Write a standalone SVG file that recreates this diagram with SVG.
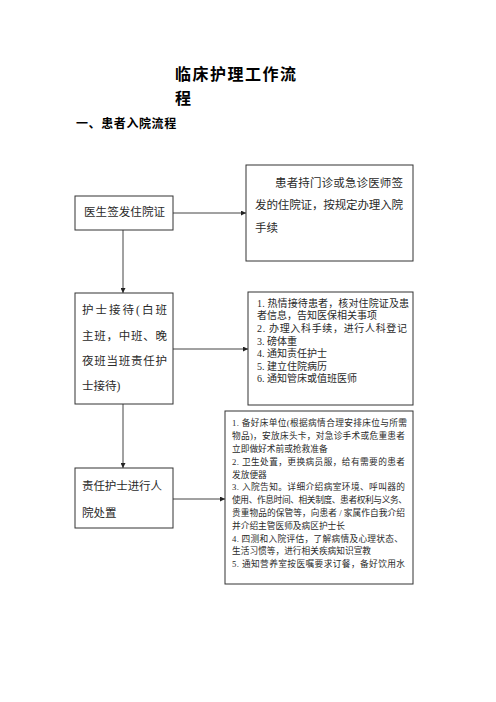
<svg xmlns="http://www.w3.org/2000/svg" width="496" height="702" viewBox="0 0 496 702">
<style>
.bg{fill:#ffffff}
.box{fill:#ffffff;stroke:#333333;stroke-width:1}
.t{font-family:"Liberation Serif","Noto Sans CJK SC",serif;fill:#2a2a2a}
.h{font-family:"Noto Sans CJK SC","Liberation Sans",sans-serif;font-weight:bold;fill:#000000}
.c{stroke:#444444;stroke-width:1;fill:none;marker-end:url(#arr)}
</style>
<defs>
<marker id="arr" viewBox="0 0 6 6" refX="6" refY="3" markerWidth="5" markerHeight="5" markerUnits="userSpaceOnUse" orient="auto">
<path d="M0,0 L6,3 L0,6 Z" fill="#222222"/>
</marker>
</defs>
<rect class="bg" x="0" y="0" width="496" height="702"/>
<g id="title">
<text class="h" x="175" y="80" font-size="16" letter-spacing="1.5">临床护理工作流</text>
<text class="h" x="175" y="104" font-size="16">程</text>
<text class="h" x="76" y="128" font-size="12" letter-spacing="0.6">一、患者入院流程</text>
</g>
<g id="connectors">
<line class="c" x1="173" y1="213" x2="246" y2="213"/>
<line class="c" x1="123" y1="230" x2="123" y2="293"/>
<line class="c" x1="173" y1="349" x2="248" y2="349"/>
<line class="c" x1="123" y1="404" x2="123" y2="468"/>
<line class="c" x1="173" y1="499" x2="225" y2="499"/>
</g>
<g id="node1">
<rect class="box" x="75" y="196" width="98" height="34"/>
<text class="t" x="84" y="216.4" font-size="11.5" textLength="81">医生签发住院证</text>
</g>
<g id="node2">
<rect class="box" x="246" y="165" width="167" height="96"/>
<text class="t" x="275" y="187.4" font-size="11.5" textLength="128">患者持门诊或急诊医师签</text>
<text class="t" x="255" y="209.4" font-size="11.5" textLength="148">发的住院证，按规定办理入院</text>
<text class="t" x="255" y="232.4" font-size="11.5">手续</text>
</g>
<g id="node3">
<rect class="box" x="75" y="293" width="98" height="111"/>
<text class="t" x="82" y="314.4" font-size="11.5" textLength="85">护士接待(白班</text>
<text class="t" x="82" y="340.4" font-size="11.5" textLength="85">主班，中班、晚</text>
<text class="t" x="82" y="365.4" font-size="11.5" textLength="85">夜班当班责任护</text>
<text class="t" x="82" y="390.4" font-size="11.5">士接待)</text>
</g>
<g id="node4">
<rect class="box" x="248" y="292" width="165" height="113"/>
<text class="t" x="257" y="306.8" font-size="10" textLength="152">1. 热情接待患者，核对住院证及患</text>
<text class="t" x="257" y="319.4" font-size="10">者信息，告知医保相关事项</text>
<text class="t" x="257" y="332" font-size="10" textLength="150">2. 办理入科手续，进行人科登记</text>
<text class="t" x="257" y="344.6" font-size="10">3. 磅体重</text>
<text class="t" x="257" y="357.2" font-size="10">4. 通知责任护士</text>
<text class="t" x="257" y="369.8" font-size="10">5. 建立住院病历</text>
<text class="t" x="257" y="382.4" font-size="10">6. 通知管床或值班医师</text>
</g>
<g id="node5">
<rect class="box" x="75" y="468" width="98" height="60"/>
<text class="t" x="82" y="490.4" font-size="11.5" textLength="80">责任护士进行人</text>
<text class="t" x="82" y="517.4" font-size="11.5">院处置</text>
</g>
<g id="node6">
<rect class="box" x="225" y="411" width="188" height="173"/>
<text class="t" x="232" y="426.3" font-size="8.7" textLength="175">1. 备好床单位(根据病情合理安排床位与所需</text>
<text class="t" x="232" y="439.1" font-size="8.7" textLength="173">物品)，安放床头卡，对急诊手术或危重患者</text>
<text class="t" x="232" y="451.9" font-size="8.7">立即做好术前或抢救准备</text>
<text class="t" x="232" y="464.7" font-size="8.7" textLength="173">2. 卫生处置，更换病员服，给有需要的患者</text>
<text class="t" x="232" y="477.5" font-size="8.7">发放便器</text>
<text class="t" x="232" y="490.3" font-size="8.7" textLength="173">3. 入院告知。详细介绍病室环境、呼叫器的</text>
<text class="t" x="232" y="503.1" font-size="8.7" textLength="175">使用、作息时间、相关制度、患者权利与义务、</text>
<text class="t" x="232" y="515.9" font-size="8.7" textLength="173">贵重物品的保管等，向患者 / 家属作自我介绍</text>
<text class="t" x="232" y="528.7" font-size="8.7">并介绍主管医师及病区护士长</text>
<text class="t" x="232" y="541.5" font-size="8.7" textLength="171">4. 四测和入院评估，了解病情及心理状态、</text>
<text class="t" x="232" y="554.3" font-size="8.7">生活习惯等，进行相关疾病知识宣教</text>
<text class="t" x="232" y="567.1" font-size="8.7" textLength="173">5. 通知营养室按医嘱要求订餐，备好饮用水</text>
</g>
</svg>
